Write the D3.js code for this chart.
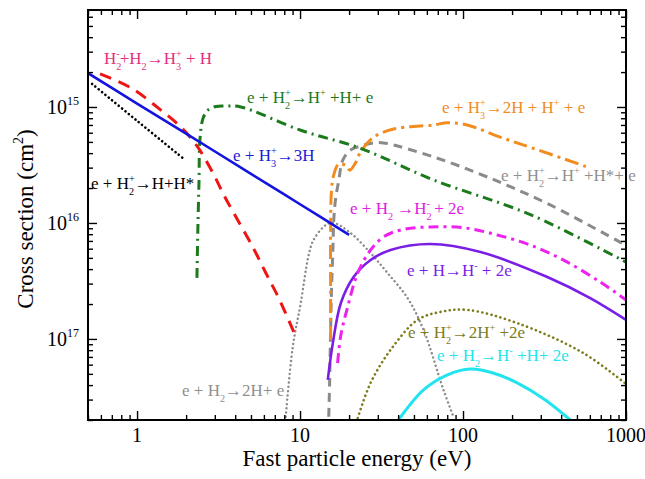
<!DOCTYPE html>
<html>
<head>
<meta charset="utf-8">
<script src="https://cdn.jsdelivr.net/npm/d3@7/dist/d3.min.js"></script>
<style>
  body { margin: 0; background: #fff; }
</style>
</head>
<body>
<div id="chart"></div>
<script>
/* ---------- data (energy eV, cross section cm^2) ---------- */

const energyRange = [0.5, 1000];
const sigmaRange = [6.86e-15, 2.0e-18];

const xTickLabels = ["1", "10", "100", "1000"];
const yTickExp = ["15", "16", "17"];

// e + H3+ -> 3H
const h3Recomb = [[0.5, 1.96e-15], [1, 1.07e-15], [2, 5.9e-16], [5, 2.65e-16], [10, 1.45e-16], [20, 7.9e-17]];
// e + H2+ -> H + H*
const h2pRecomb = [[0.53, 1.58e-15], [1, 7.6e-16], [1.94, 3.56e-16]];
// H2- + H2 -> H3+ + H
const h2mTransfer = [[0.593, 1.93e-15], [0.919, 1.46e-15], [1.40, 9.4e-16], [1.86, 6.7e-16], [2.36, 4.5e-16],
  [2.92, 2.7e-16], [3.41, 1.74e-16], [4.21, 1.02e-16], [5.13, 6.2e-17], [6.17, 3.7e-17], [7.40, 2.25e-17], [9.15, 1.15e-17]];
// e + H2+ -> H+ + H + e
const h2pDiss = [[2.33, 3.36e-17], [2.36, 8.7e-17], [2.40, 2.35e-16], [2.43, 5.2e-16], [2.54, 8.0e-16], [2.72, 9.4e-16],
  [3.05, 1.01e-15], [3.41, 1.02e-15], [4.33, 1.0e-15], [10.1, 6.3e-16], [23.5, 4.4e-16], [65.9, 2.35e-16], [259, 1.18e-16], [1000, 4.6e-17]];
// e + H3+ -> 2H + H+ + e
const h3pDiss = [[15.4, 9.8e-18], [15.4, 2.64e-17], [15.4, 8.7e-17], [15.6, 1.92e-16], [16.1, 2.6e-16], [17.3, 3.23e-16],
  [19.3, 3.1e-16], [20.2, 2.85e-16], [21.9, 3.3e-16], [23.5, 4.09e-16], [28.3, 5.5e-16], [37.5, 6.45e-16], [65.9, 7.0e-16],
  [80.3, 7.3e-16], [106, 7.0e-16], [169, 5.5e-16], [270, 4.4e-16], [578, 3.04e-16]];
// e + H2+ -> H+ + H* + e
const h2pExc = [[15.0, 2.13e-18], [15.2, 4.4e-18], [15.4, 1.2e-17], [15.6, 2.64e-17], [15.9, 5.85e-17], [16.1, 1.06e-16],
  [16.5, 1.58e-16], [17.3, 2.35e-16], [18.3, 3.49e-16], [20.4, 4.26e-16], [23.5, 4.6e-16], [28.3, 4.9e-16], [32.6, 4.9e-16],
  [65.9, 3.71e-16], [141, 2.49e-16], [343, 1.43e-16], [1000, 6.4e-17]];
// e + H2 -> H2- + 2e
const h2Attach = [[17.0, 6.2e-18], [17.8, 1.08e-17], [19.6, 1.89e-17], [22.6, 3.71e-17], [27.1, 5.85e-17], [32.5, 7.57e-17],
  [41.4, 8.7e-17], [63.1, 9.25e-17], [103, 9.06e-17], [162, 7.88e-17], [259, 6.45e-17], [412, 4.8e-17], [694, 3.1e-17], [1000, 2.17e-17]];
// e + H -> H- + 2e
const hAttach = [[14.8, 4.44e-18], [15.9, 9.25e-18], [17.8, 2.04e-17], [21.3, 3.42e-17], [27.1, 4.8e-17], [35.9, 5.85e-17],
  [63.1, 6.59e-17], [128, 5.62e-17], [329, 3.42e-17], [603, 2.25e-17], [1000, 1.46e-17]];
// e + H2+ -> 2H+ + 2e
const h2pIon = [[22.6, 2.08e-18], [27.1, 4.18e-18], [35.9, 8.04e-18], [52.6, 1.46e-17], [72.7, 1.71e-17], [106, 1.78e-17],
  [215, 1.37e-17], [546, 7.57e-18], [1000, 4.09e-18]];
// e + H2 -> H- + H+ + 2e
const h2Pair = [[40.2, 2.0e-18], [57.2, 3.63e-18], [80.3, 4.9e-18], [111, 5.5e-18], [153, 5.09e-18], [215, 4.18e-18],
  [320, 2.98e-18], [455, 2.0e-18]];
// e + H2 -> 2H + e
const h2Diss = [[8.17, 2.13e-18], [9.02, 8.53e-18], [10.1, 2.04e-17], [11.3, 5.3e-17], [12.1, 7.13e-17], [14.4, 9.6e-17],
  [16.1, 1.0e-16], [20.4, 8.2e-17], [27.1, 5.5e-17], [34.4, 3.71e-17], [45.7, 2.25e-17], [57.2, 1.2e-17], [75.9, 3.63e-18], [87.4, 2.13e-18]];

/* ---------- styles ---------- */

const FONT = "Liberation Serif";

const SERIES = [
  { data: h2Diss,      color: "#8a8a8a", width: 2.4, dash: "0.1,4.2", cap: "round" },
  { data: h2pExc,      color: "#8a8a8a", width: 3,   dash: "9,6" },
  { data: h3pDiss,     color: "#f28c1e", width: 3,   dash: "14,5,3,5" },
  { data: h2pDiss,     color: "#1c7a1c", width: 3,   dash: "10,5,2,5" },
  { data: h2pIon,      color: "#7c7c1e", width: 2.6, dash: "0.1,4.6", cap: "round" },
  { data: h2Pair,      color: "#22e4ee", width: 3,   dash: null },
  { data: hAttach,     color: "#7a1ee6", width: 2.6, dash: null },
  { data: h2Attach,    color: "#ee22ee", width: 3,   dash: "10,5,3,5" },
  { data: h2mTransfer, color: "#ee1515", width: 3,   dash: "12,8" },
  { data: h2pRecomb,   color: "#000000", width: 2.6, dash: "0.1,4.2", cap: "round" },
  { data: h3Recomb,    color: "#1414e0", width: 2.6, dash: null }
];

const LABELS = [
  { text: "H_2^-+H_2→H_3^+ + H",    x: 104, y: 64,  color: "#e3307e" },
  { text: "e + H_2^+→H+H*",         x: 91,  y: 189, color: "#000000" },
  { text: "e + H_3^+→3H",           x: 233, y: 161, color: "#1a1ad6" },
  { text: "e + H_2^+→H^+ +H+ e",    x: 247, y: 103, color: "#1c7a1c" },
  { text: "e + H_3^+→2H + H^+ + e", x: 442, y: 113, color: "#f28c1e" },
  { text: "e + H_2^+→H^+ +H*+ e",   x: 501, y: 181, color: "#8f8f8f" },
  { text: "e + H_2 →H_2^- + 2e",    x: 350, y: 214, color: "#e020e0" },
  { text: "e + H→H^- + 2e",         x: 407, y: 276, color: "#7a1ee6" },
  { text: "e + H_2^+→2H^+ +2e",     x: 408, y: 338, color: "#7c7c1e" },
  { text: "e + H_2→H^- +H+ 2e",     x: 437, y: 361, color: "#22e4ee" },
  { text: "e + H_2→2H+ e",          x: 182, y: 396, color: "#8f8f8f" }
];

/* ---------- layout ---------- */

const W = 645, H = 479;
const plot = { left: 88, right: 626, top: 10, bottom: 420 };

const svg = d3.select("#chart").append("svg")
  .attr("width", W).attr("height", H)
  .attr("font-family", FONT);

const x = d3.scaleLog().domain(energyRange).range([plot.left, plot.right]);
const y = d3.scaleLog().domain(sigmaRange).range([plot.top, plot.bottom]);

// rich text with _sub and ^sup (sup after sub is stacked over it)
function richText(g, px, py, str, size, color, anchor) {
  const t = g.append("text")
    .attr("x", px).attr("y", py)
    .attr("font-family", FONT)
    .attr("font-size", size)
    .attr("fill", color)
    .attr("text-anchor", anchor || "start");
  const parts = [];
  const re = /([_^])(\{[^}]*\}|.)/g;
  let last = 0, m;
  while ((m = re.exec(str)) !== null) {
    if (m.index > last) parts.push({ t: str.slice(last, m.index), k: "n" });
    parts.push({ t: m[2].replace(/[{}]/g, ""), k: m[1] === "_" ? "sub" : "sup" });
    last = re.lastIndex;
  }
  if (last < str.length) parts.push({ t: str.slice(last), k: "n" });

  let cur = 0, prev = null;
  parts.forEach(p => {
    const off = p.k === "sub" ? 0.34 * size : p.k === "sup" ? -0.44 * size : 0;
    const ts = t.append("tspan").attr("dy", off - cur).text(p.t);
    if (p.k !== "n") ts.attr("font-size", size * 0.6);
    if (p.k === "sup" && prev && prev.k === "sub") {
      ts.attr("dx", -prev.t.length * size * 0.6 * 0.5);
    }
    cur = off;
    prev = p;
  });
  return t;
}

/* ---------- curves ---------- */

svg.append("defs").append("clipPath").attr("id", "clip")
  .append("rect")
  .attr("x", plot.left).attr("y", plot.top)
  .attr("width", plot.right - plot.left).attr("height", plot.bottom - plot.top);

const line = d3.line()
  .x(d => x(d[0]))
  .y(d => y(d[1]))
  .curve(d3.curveCatmullRom.alpha(0.5));

const curves = svg.append("g").attr("clip-path", "url(#clip)");

SERIES.forEach(s => {
  curves.append("path")
    .datum(s.data)
    .attr("d", line)
    .attr("fill", "none")
    .attr("stroke", s.color)
    .attr("stroke-width", s.width)
    .attr("stroke-linecap", s.cap || "butt")
    .attr("stroke-dasharray", s.dash);
});

/* ---------- axes (ticks inward on all sides) ---------- */

const isMajor = v => Math.abs(Math.log10(v) - Math.round(Math.log10(v))) < 1e-6;
const xAll = x.ticks();
const yAll = y.ticks();
const xMajor = xAll.filter(isMajor), xMinor = xAll.filter(v => !isMajor(v));
const yMajor = yAll.filter(isMajor), yMinor = yAll.filter(v => !isMajor(v));

function tickAxis(axisFn, scale, vals, size, tx, ty) {
  const g = svg.append("g")
    .attr("transform", `translate(${tx},${ty})`)
    .call(axisFn(scale).tickValues(vals).tickSize(-size).tickFormat(""));
  g.select(".domain").remove();
  g.selectAll("line").attr("stroke", "#000").attr("stroke-width", 1.4);
}

tickAxis(d3.axisBottom, x, xMajor, 9, 0, plot.bottom);
tickAxis(d3.axisBottom, x, xMinor, 5, 0, plot.bottom);
tickAxis(d3.axisTop, x, xMajor, 9, 0, plot.top);
tickAxis(d3.axisTop, x, xMinor, 5, 0, plot.top);
tickAxis(d3.axisLeft, y, yMajor, 9, plot.left, 0);
tickAxis(d3.axisLeft, y, yMinor, 5, plot.left, 0);
tickAxis(d3.axisRight, y, yMajor, 9, plot.right, 0);
tickAxis(d3.axisRight, y, yMinor, 5, plot.right, 0);

svg.append("rect")
  .attr("x", plot.left).attr("y", plot.top)
  .attr("width", plot.right - plot.left).attr("height", plot.bottom - plot.top)
  .attr("fill", "none").attr("stroke", "#000").attr("stroke-width", 2);

// tick labels
xMajor.forEach((v, i) => {
  svg.append("text")
    .attr("x", x(v)).attr("y", 442)
    .attr("text-anchor", "middle")
    .attr("font-family", FONT)
    .attr("font-size", 20)
    .text(xTickLabels[i]);
});

yMajor.sort((a, b) => b - a).forEach((v, i) => {
  richText(svg, 79, y(v) + 7, "10^{" + yTickExp[i] + "}", 20, "#000", "end");
});

// axis titles
svg.append("text")
  .attr("x", 357)
  .attr("y", 466)
  .attr("font-family", FONT)
  .attr("font-size", 23)
  .attr("text-anchor", "middle")
  .text("Fast particle energy (eV)");

richText(svg.append("g").attr("transform", "translate(33,219) rotate(-90)"),
  0, 0, "Cross section (cm^2)", 23, "#000", "middle");

/* ---------- curve labels ---------- */

LABELS.forEach(l => richText(svg, l.x, l.y, l.text, 17, l.color));
</script>
</body>
</html>
